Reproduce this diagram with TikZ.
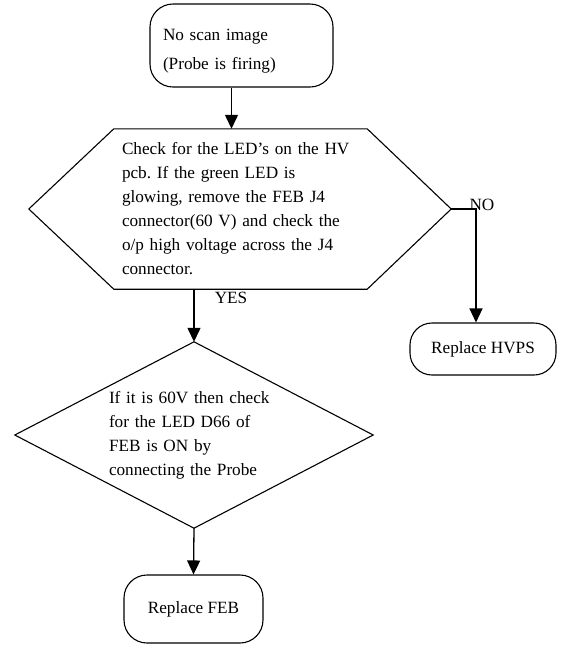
\documentclass[tikz,border=0pt]{standalone}
\usepackage{fontspec}
\setmainfont{Liberation Serif}
\usetikzlibrary{arrows.meta,positioning,calc}
\newcommand{\chartfont}{\fontsize{17.2}{24}\selectfont}
\frenchspacing
\tikzset{
  termblock/.style={draw,line width=1.1pt,rounded corners=23pt,align=center,font=\chartfont},
  decision/.style={inner sep=0pt,align=left,font=\chartfont},
  outline/.style={draw,line width=1.1pt,line join=miter},
  flowarrow/.style={-{Triangle[width=13pt,length=14pt]},line width=1.3pt},
  edgelabel/.style={inner sep=0pt,font=\chartfont}
}

\begin{document}
\begin{tikzpicture}[x=1pt,y=-1pt]
\useasboundingbox (0,0) rectangle (563,649);

\node[termblock, align=left, text width=157pt, inner xsep=13pt, minimum height=83pt,
  font=\fontsize{17.2}{29}\selectfont] (start) at (241.5,45.5) {\rule{0pt}{22pt}No scan image\\(Probe is firing)};

\node[decision, text width=236pt, minimum width=422pt, minimum height=160pt] (chk) at (240,209)
  {Check for the LED's on the HV\\pcb. If the green LED is\\glowing, remove the FEB J4\\connector(60 V) and check the\\o/p high voltage across the J4\\connector.};
\draw[outline] (chk.west) -- ([xshift=85pt]chk.north west) -- ([xshift=-84pt]chk.north east)
  -- (chk.east) -- ([xshift=-84pt]chk.south east) -- ([xshift=85pt]chk.south west) -- cycle;

\node[decision, text width=170pt, minimum width=358pt, minimum height=186pt] (volt) at (194,435)
  {If it is 60V then check\\for the LED D66 of\\FEB is ON by\\connecting the Probe};
\draw[outline] (volt.west) -- (volt.north) -- (volt.east) -- (volt.south) -- cycle;

\node[termblock, rounded corners=22pt, minimum width=146pt, minimum height=52pt] (hvps) at (483,349) {Replace HVPS};
\node[termblock, minimum width=139pt, minimum height=68pt] (feb) at (193.5,609) {Replace FEB};

\node[edgelabel] (no) at (482,205) {NO};
\node[edgelabel] (yes) at (231,298) {YES};

\draw[flowarrow] ([xshift=-10pt]start.south) -- ([xshift=-10pt]start.south |- chk.north);
\draw[flowarrow] (chk.east) -| ([xshift=-7pt]hvps.north);
\draw[flowarrow] (chk.south -| volt.north) -- (volt.north);
\draw[flowarrow] (volt.south) -- (feb.north);
\end{tikzpicture}
\end{document}
